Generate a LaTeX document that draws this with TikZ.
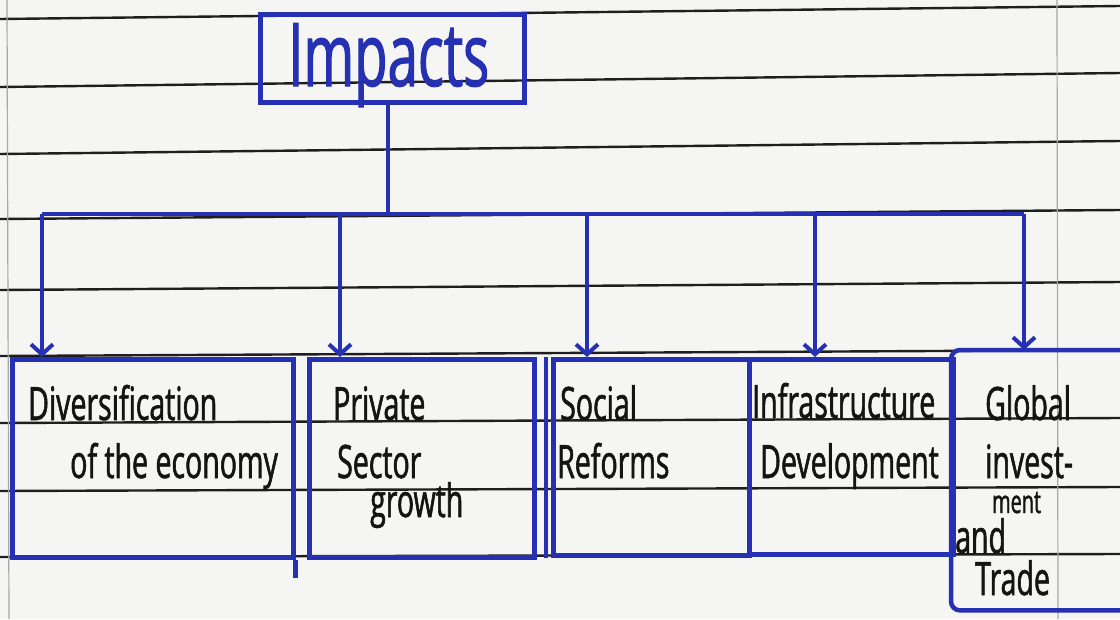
\documentclass[tikz,border=0pt]{standalone}
\usepackage{fontspec}
\setmainfont{Open Sans}
\newfontfamily\hand[FakeStretch=0.62,FakeBold=1.2]{Open Sans}
\usetikzlibrary{arrows.meta}
\definecolor{ink}{HTML}{2530B2}
\definecolor{paper}{HTML}{F5F5F3}
\definecolor{rulec}{HTML}{1E1E1E}
\definecolor{pen}{HTML}{141414}
\definecolor{margin}{HTML}{A8A8A8}
\tikzset{
  box/.style={draw=ink, line width=4.5pt, anchor=north west, inner sep=0pt, minimum width=#1},
  boxh/.style={minimum height=#1},
  txt/.style={anchor=base west, inner sep=0pt, text=pen, font=\hand\fontsize{46}{50}\selectfont},
  smalltxt/.style={anchor=base west, inner sep=0pt, text=pen, font=\hand\fontsize{32}{36}\selectfont},
  ruled/.style={draw=rulec, line width=2.4pt},
  link/.style={draw=ink, line width=4.5pt},
  arr/.style={draw=ink, line width=4pt, -{Straight Barb[length=10pt,width=22pt]}}
}
\begin{document}
\begin{tikzpicture}[x=1pt,y=-1pt]
\useasboundingbox (0,0) rectangle (1120,619);
\fill[paper] (0,0) rectangle (1120,619);
% ruled paper
\draw[ruled] (0,19) -- (1120,6);
\draw[ruled] (0,87) -- (1120,73);
\draw[ruled] (0,154) -- (1120,141);
\draw[ruled] (0,219) -- (1120,210);
\draw[ruled] (0,290) -- (1120,282);
\draw[ruled] (0,356) -- (1120,350);
\draw[ruled] (0,423) -- (1120,418);
\draw[ruled] (0,491) -- (1120,487);
\draw[ruled] (0,557) -- (1120,554);
\draw[margin, line width=1.2pt] (7,0) -- (9,619);
\draw[margin, line width=1.2pt] (1057,0) -- (1058,619);

% top box
\node[box=264pt, boxh=88pt] (impacts) at (258,12) {};
\node[anchor=base west, inner sep=0pt, text=ink, font=\hand\fontsize{88}{92}\selectfont] (impactstxt) at (288,86) {Impacts};

% branch boxes
\node[box=281pt, boxh=198pt] (d1) at (10,357) {};
\node[box=225pt, boxh=198pt] (d2) at (307,357) {};
\node[box=196pt, boxh=196pt] (d3) at (551,357) {};
\node[box=204pt, boxh=195pt] (d4) at (747,357) {};
\node[anchor=north west, inner sep=0pt, minimum width=180pt, minimum height=260pt] (d5) at (951,350) {};
\draw[link, rounded corners=9pt] (d5.north east) -- (d5.north west) -- (d5.south west) -- (d5.south east);
\draw[link] (d1.south east) -- ++(0,18);
\draw[link] ([xshift=-5pt]d3.north west) -- ([xshift=-5pt]d3.south west);

% connectors
\coordinate (bl) at (42,214);
\coordinate (br) at (1024,214);
\draw[link] (impacts.south -| 388,0) -- (388,214);
\draw[link] (bl) -- (br);
\draw[arr] (bl) -- (bl |- d1.north);
\draw[arr] (340,214) -- (340,357);
\draw[arr] (587,214) -- (587,357);
\draw[arr] (815,214) -- (815,357);
\draw[arr] (br) -- (br |- d5.north);

% texts
\node[txt] (t1a) at (28,420) {Diversification};
\node[txt] (t1b) at (70,478) {of the economy};
\node[txt] (t2a) at (333,420) {Private};
\node[txt] (t2b) at (337,478) {Sector};
\node[txt] (t2c) at (370,517) {growth};
\node[txt] (t3a) at (560,420) {Social};
\node[txt] (t3b) at (557,478) {Reforms};
\node[txt] (t4a) at (752,418) {Infrastructure};
\node[txt] (t4b) at (760,478) {Development};
\node[txt] (t5a) at (985,420) {Global};
\node[txt] (t5b) at (985,478) {invest-};
\node[smalltxt] (t5c) at (992,513) {ment};
\node[txt] (t5d) at (955,553) {and};
\node[txt] (t5e) at (975,595) {Trade};
\end{tikzpicture}
\end{document}
